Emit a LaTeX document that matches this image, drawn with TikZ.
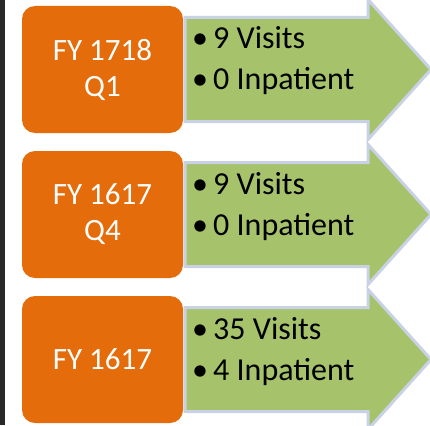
\documentclass[tikz,border=0pt]{standalone}
\usepackage{fontspec}
\setmainfont{Carlito}
\definecolor{barc}{RGB}{40,40,40}
\definecolor{orangec}{RGB}{228,108,10}
\definecolor{greenc}{RGB}{166,195,108}
\definecolor{edgec}{RGB}{200,210,228}
\tikzset{
  yearbox/.style={fill=orangec, rounded corners=13pt, minimum width=161pt, minimum height=127pt,
    inner sep=0pt, text=white, align=center, font=\fontsize{31}{36}\selectfont},
  arrowshape/.style={fill=greenc, draw=edgec, line width=3pt, line join=miter},
  bul/.style={anchor=base west, inner sep=0pt, text=black, font=\fontsize{32}{38}\selectfont}
}
\newcommand{\bitem}[1]{\makebox[22pt][l]{\hspace{1pt}•}#1}
\newcommand{\greenarrow}[1]{%
  \draw[arrowshape] (185,#1-52) -- (368,#1-52) -- (368,#1-70) -- (431,#1) -- (368,#1+70) -- (368,#1+52) -- (185,#1+52) -- cycle;}
\begin{document}
\begin{tikzpicture}[x=1pt,y=-1pt]
\useasboundingbox (0,0) rectangle (430,425);
\clip (0,0) rectangle (430,425);
\fill[barc] (0,0) rectangle (5,425);
% arrows
\greenarrow{69.5}
\greenarrow{214.5}
\greenarrow{359.5}
% boxes
\node[yearbox] (b1) at (102.5,69.5) {FY 1718\\Q1};
\node[yearbox] (b2) at (102.5,214.5) {FY 1617\\Q4};
\node[yearbox] (b3) at (102.5,359.5) {FY 1617};
% bullet texts
\node[bul] (t1a) at (191,49) {\bitem{9 Visits}};
\node[bul] (t1b) at (191,90) {\bitem{0 Inpatient}};
\node[bul] (t2a) at (191,194) {\bitem{9 Visits}};
\node[bul] (t2b) at (191,235) {\bitem{0 Inpatient}};
\node[bul] (t3a) at (191,339) {\bitem{35 Visits}};
\node[bul] (t3b) at (191,380) {\bitem{4 Inpatient}};
\end{tikzpicture}
\end{document}
